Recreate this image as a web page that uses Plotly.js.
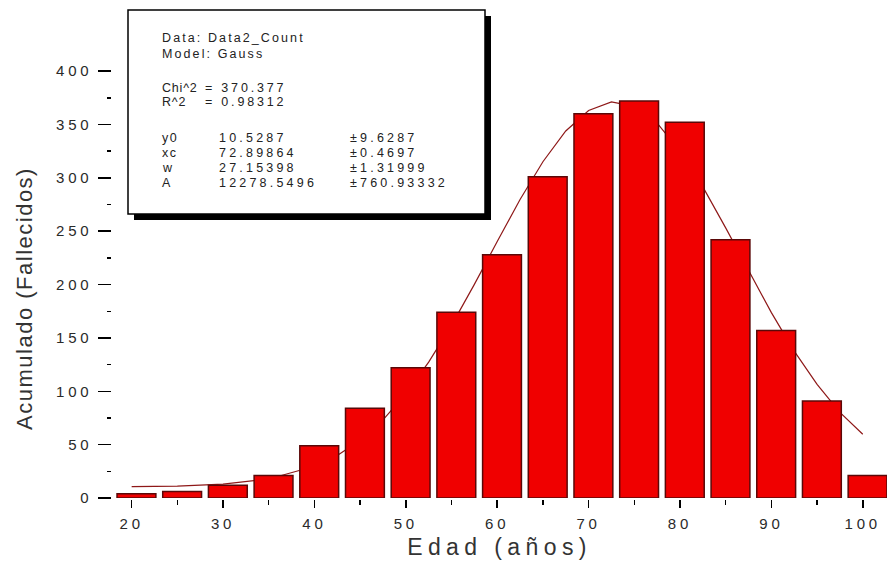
<!DOCTYPE html>
<html>
<head>
<meta charset="utf-8">
<script src="https://cdn.plot.ly/plotly-3.0.1.min.js"></script>
<style>
  html, body { margin: 0; padding: 0; background: #fff; }
  #chart { width: 887px; height: 568px; }
  .xtick text, .ytick text { letter-spacing: 3.8px; }
  .g-xtitle text { letter-spacing: 5.4px; }
  .g-ytitle text { letter-spacing: 1.5px; }
  .g-ytitle { transform: translate(-14px, 15px); }
</style>
</head>
<body>
<div id="chart"></div>
<script>
// Age classes (years) and counts
var ages = [20, 25, 30, 35, 40, 45, 50, 55, 60, 65, 70, 75, 80, 85, 90, 95, 100];
var counts = [4, 6, 12, 21, 49, 84, 122, 174, 228, 301, 360, 372, 352, 242, 157, 91, 21];

// Fitted Gauss curve
var fitX = [20, 25, 30, 35, 40, 42.5, 45, 47.5, 50, 52.5, 55, 57.5, 60, 62.5, 65, 67.5, 70, 72.5, 75, 77.5, 80, 82.5, 85, 87.5, 90, 92.5, 95, 97.5, 100];
var fitY = [10.7, 11.2, 13, 17.8, 29.7, 39.9, 54.1, 73.2, 97.5, 127.3, 161.8, 200.2, 240.3, 279.7, 315.1, 343.9, 363.1, 371.2, 367, 351.2, 325.1, 291.5, 253.1, 212.7, 173.7, 137.6, 106.4, 80.3, 59.7];

// Fit report text
var infoHeader = ["Data: Data2_Count", "Model: Gauss"];
var statNames = ["Chi^2", "R^2"];
var statValues = ["= 370.377", "= 0.98312"];
var paramNames = ["y0", "xc", "w", "A"];
var paramValues = ["10.5287", "72.89864", "27.15398", "12278.5496"];
var paramErrors = ["±9.6287", "±0.4697", "±1.31999", "±760.93332"];

// pixel -> paper helpers (plot area: x 112..887, y 69..498)
var L = 112, R = 887, T = 69, B = 498;
function px(x) { return (x - L) / (R - L); }
function py(y) { return (B - y) / (B - T); }

var textFont = { family: "Liberation Sans, Arial, sans-serif", size: 12.5, color: "#222" };
var annotations = [];
function addText(txt, x, y, spacing) {
  annotations.push({
    text: '<span style="letter-spacing:' + spacing + 'px">' + txt + '</span>',
    xref: "paper", yref: "paper", x: px(x), y: py(y),
    xanchor: "left", yanchor: "middle", showarrow: false, font: textFont
  });
}
var headerY = [38, 54];
infoHeader.forEach(function (t, i) { addText(t, 160, headerY[i], 2.1); });
var statY = [87.5, 102.5];
statNames.forEach(function (t, i) { addText(t, 160, statY[i], 0.8); addText(statValues[i], 203, statY[i], 2.8); });
var paramY = [137.5, 152.5, 167.5, 182.5];
paramNames.forEach(function (t, i) {
  addText(t, 160, paramY[i], 1.5);
  addText(paramValues[i], 217, paramY[i], 3.2);
  addText(paramErrors[i], 348, paramY[i], 3.2);
});

var shapes = [
  { type: "rect", xref: "paper", yref: "paper", layer: "above",
    x0: px(134), x1: px(491), y0: py(220), y1: py(16),
    fillcolor: "#000", line: { width: 0 } },
  { type: "rect", xref: "paper", yref: "paper", layer: "above",
    x0: px(128), x1: px(485), y0: py(214), y1: py(10),
    fillcolor: "#fff", line: { color: "#000", width: 1.5 } }
];

// fit line sits behind the bars (lower zorder)
var fitTrace = {
  type: "scatter", mode: "lines", x: fitX, y: fitY, zorder: 0,
  line: { color: "#8e1818", width: 1.2 }, hoverinfo: "skip", showlegend: false
};
var barTrace = {
  type: "bar", x: ages, y: counts, width: 4.25, offset: -1.6, zorder: 1,
  marker: { color: "#f00000", line: { color: "#5a0808", width: 1.5 } },
  showlegend: false
};

var tickFont = { family: "Liberation Sans, Arial, sans-serif", size: 15, color: "#2a2a2a" };

var layout = {
  width: 887, height: 568,
  margin: { l: L, r: 0, t: T, b: 568 - B },
  paper_bgcolor: "#fff", plot_bgcolor: "#fff",
  showlegend: false,
  xaxis: {
    range: [17.85, 102.65], showgrid: false, zeroline: false,
    showline: true, linecolor: "#000", linewidth: 1.5,
    ticks: "outside", ticklen: 8, tickwidth: 1.5, tickcolor: "#000",
    tickvals: [20, 30, 40, 50, 60, 70, 80, 90, 100],
    minor: { ticks: "outside", ticklen: 5, tickwidth: 1.5, tickcolor: "#000", dtick: 5, showgrid: false },
    tickfont: tickFont, ticklabelstandoff: 3,
    title: { text: "Edad (años)", font: { family: "Liberation Sans, Arial, sans-serif", size: 23, color: "#333" }, standoff: 8 }
  },
  yaxis: {
    range: [0, 402], showgrid: false, zeroline: false,
    showline: true, linecolor: "#000", linewidth: 1.5,
    ticks: "outside", ticklen: 13, tickwidth: 1.5, tickcolor: "#000",
    tickvals: [0, 50, 100, 150, 200, 250, 300, 350, 400],
    minor: { ticks: "outside", ticklen: 4, tickwidth: 1.5, tickcolor: "#000", dtick: 25, showgrid: false },
    tickfont: tickFont, ticklabelstandoff: 2,
    title: { text: "Acumulado (Fallecidos)", font: { family: "Liberation Sans, Arial, sans-serif", size: 22, color: "#333" }, standoff: 3 }
  },
  shapes: shapes,
  annotations: annotations,
  bargap: 0
};

Plotly.newPlot("chart", [fitTrace, barTrace], layout, { displayModeBar: false, staticPlot: true });
</script>
</body>
</html>
